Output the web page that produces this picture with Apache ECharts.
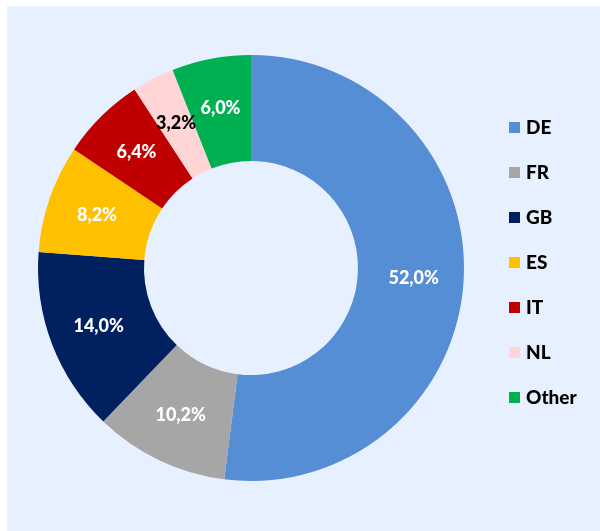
<!DOCTYPE html>
<html>
<head>
<meta charset="utf-8">
<script src="https://cdn.jsdelivr.net/npm/echarts@6/dist/echarts.min.js"></script>
<style>
  html, body { margin: 0; padding: 0; background: #ffffff; }
  #chart { width: 600px; height: 531px; }
</style>
</head>
<body>
<div id="chart"></div>
<script>
// 国家分类和占比
const countries = ['DE', 'FR', 'GB', 'ES', 'IT', 'NL', 'Other'];
const shares = [52.0, 10.2, 14.0, 8.2, 6.4, 3.2, 6.0];
const colors = ['#558ED5', '#A6A6A6', '#002060', '#FFC000', '#C00000', '#FFD5D6', '#00B050'];

let chart = echarts.init(document.getElementById('chart'));
chart.setOption({
  backgroundColor: '#ffffff',
  // 浅蓝背景
  graphic: [{
    type: 'rect',
    left: 7, top: 6,
    shape: { width: 593, height: 525 },
    style: { fill: '#E7F0FE' },
    z: -10
  }],
  legend: {
    orient: 'vertical',
    left: 509,
    top: 117,
    padding: 0,
    itemWidth: 11,
    itemHeight: 11,
    itemGap: 24,
    icon: 'rect',
    textStyle: {
      color: '#000000',
      fontFamily: 'Lato',
      fontWeight: 900,
      fontSize: 19,
      lineHeight: 21,
      padding: [0, 0, 0, 1]
    },
    data: countries
  },
  series: [{
    type: 'pie',
    center: [251, 268],
    radius: [107, 213],
    startAngle: 90,
    clockwise: true,
    avoidLabelOverlap: false,
    label: {
      show: true,
      position: 'inside',
      fontFamily: 'Lato',
      fontWeight: 900,
      fontSize: 18,
      color: '#ffffff',
      formatter: p => p.value.toFixed(1).replace('.', ',') + '%'
    },
    labelLine: { show: false },
    emphasis: { disabled: true },
    data: countries.map((c, i) => ({
      name: c,
      value: shares[i],
      itemStyle: { color: colors[i] },
      label: c === 'NL' ? { color: '#000000' } : undefined
    }))
  }]
});
</script>
</body>
</html>
